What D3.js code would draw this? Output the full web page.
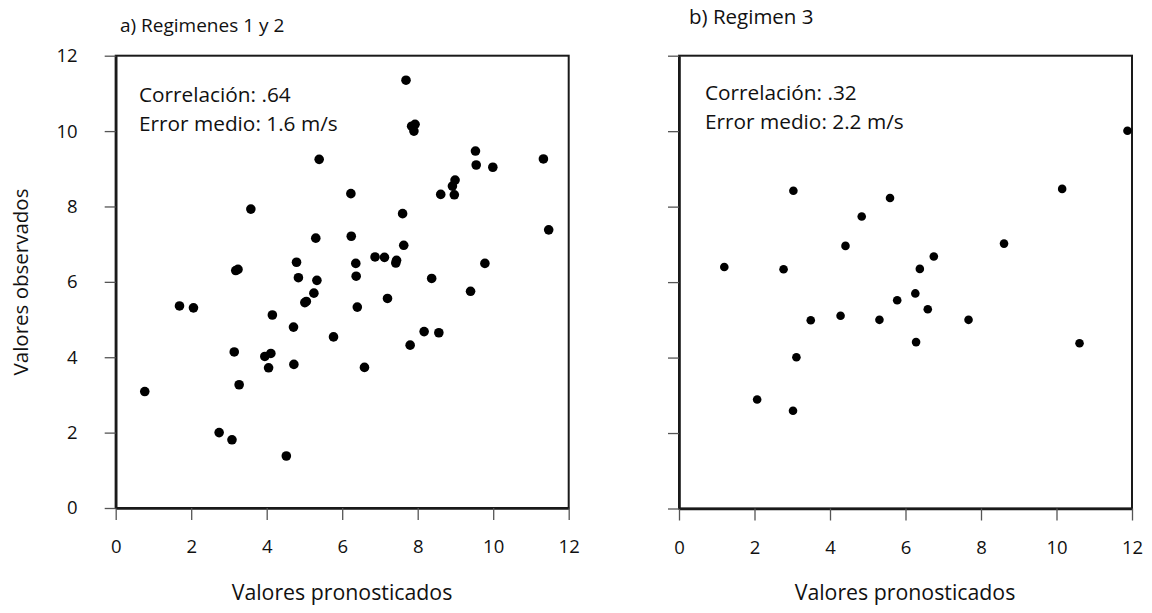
<!DOCTYPE html>
<html><head><meta charset="utf-8">
<script src="https://cdn.jsdelivr.net/npm/d3@7"></script>
<style>
body{margin:0;background:#fff;}
text{font-family:"Open Sans",sans-serif;fill:#111;}
</style></head>
<body><svg id="c" width="1152" height="613"></svg>
<script>
// ---- data ----
const xTicks = [0,2,4,6,8,10,12];
const yTicks = [0,2,4,6,8,10,12];
const panelTitles = ["a) Regimenes 1 y 2", "b) Regimen 3"];
const statsA = ["Correlación: .64", "Error medio: 1.6 m/s"];
const statsB = ["Correlación: .32", "Error medio: 2.2 m/s"];
const xLabel = "Valores pronosticados";
const yLabel = "Valores observados";

// Regimenes 1 y 2: [pronosticado, observado]
const pointsA = [
 [5.39,9.25],[3.58,7.93],[5.30,7.16],[4.79,6.52],[3.18,6.30],[3.24,6.33],[4.84,6.11],[5.33,6.04],
 [7.69,11.35],[7.84,10.13],[7.93,10.18],[7.90,10.00],[9.53,9.47],[9.55,9.10],[9.99,9.04],[11.33,9.26],
 [8.99,8.70],[8.92,8.54],[8.97,8.31],[8.61,8.32],[6.23,8.34],[7.60,7.81],[11.47,7.38],[6.24,7.21],
 [7.63,6.97],[6.87,6.66],[7.12,6.65],[7.42,6.50],[7.44,6.57],[9.78,6.49],[6.36,6.49],[6.37,6.15],
 [8.37,6.09],[7.20,5.56],[9.40,5.75],[6.40,5.33],[5.77,4.54],[8.17,4.68],[8.56,4.65],[7.80,4.32],
 [6.59,3.73],[5.25,5.70],[5.01,5.45],[5.05,5.48],[1.69,5.36],[2.06,5.31],[4.15,5.12],[4.71,4.80],
 [3.14,4.14],[3.95,4.02],[4.11,4.10],[4.05,3.72],[4.72,3.81],[3.27,3.27],[0.77,3.09],[2.74,2.00],
 [3.08,1.81],[4.52,1.38]
];
// Regimen 3
const pointsB = [
 [3.03,8.42],[5.59,8.23],[4.84,7.74],[4.41,6.96],[1.20,6.40],[2.77,6.34],[5.78,5.52],[11.88,10.01],
 [10.15,8.47],[8.61,7.02],[6.75,6.68],[6.38,6.35],[6.26,5.70],[3.49,4.99],[4.28,5.11],[5.31,5.00],
 [3.11,4.01],[2.07,2.89],[3.02,2.59],[6.59,5.28],[7.67,5.00],[6.28,4.41],[10.61,4.38]
];

const svg = d3.select("#c");

function panel(cfg){
  const g = svg.append("g");
  const x = d3.scaleLinear().domain([0,12]).range([cfg.x0, cfg.x1]);
  const y = d3.scaleLinear().domain([0,12]).range([cfg.y0, cfg.y1]);

  g.append("rect").attr("x",cfg.x0).attr("y",cfg.y1)
    .attr("width",cfg.x1-cfg.x0).attr("height",cfg.y0-cfg.y1)
    .attr("fill","none").attr("stroke","#1a1a1a").attr("stroke-width",2);

  const xa = g.append("g").attr("transform",`translate(0,${cfg.y0})`)
    .call(d3.axisBottom(x).tickValues(xTicks).tickSize(12).tickSizeOuter(0).tickPadding(20));
  const ya = g.append("g").attr("transform",`translate(${cfg.x0},0)`)
    .call(d3.axisLeft(y).tickValues(yTicks).tickSize(11).tickSizeOuter(0).tickPadding(27)
      .tickFormat(cfg.yLabels ? d3.format("d") : ""));
  [xa,ya].forEach(a=>{
    a.select(".domain").attr("stroke","#1a1a1a").attr("stroke-width",2.6);
    a.selectAll(".tick line").attr("stroke","#555").attr("stroke-width",1.3);
    a.selectAll(".tick text").attr("font-family","Open Sans").attr("font-size",18.5).attr("fill","#111");
  });

  g.append("g").selectAll("circle").data(cfg.points).join("circle")
    .attr("cx",d=>x(d[0])).attr("cy",d=>y(d[1])).attr("r",cfg.r).attr("fill","#000");

  g.append("text").attr("x",cfg.titleX).attr("y",cfg.titleY).attr("font-size",cfg.titleSize).text(cfg.title);
  g.selectAll("text.st").data(cfg.stats).join("text").attr("class","st")
    .attr("x",cfg.statX).attr("y",(d,i)=>cfg.statY + i*28.5).attr("font-size",20.8).text(d=>d);
  g.append("text").attr("x",cfg.xLabX).attr("y",600).attr("text-anchor","middle")
    .attr("font-size",21.3).text(xLabel);
}

panel({x0:115.7,x1:568.7,y0:508,y1:55.7,points:pointsA,r:4.8,yLabels:true,
  title:panelTitles[0],titleSize:19,titleX:120,titleY:32,stats:statsA,statX:139,statY:102,xLabX:342});
panel({x0:679,x1:1132,y0:508.5,y1:55.7,points:pointsB,r:4.3,yLabels:false,
  title:panelTitles[1],titleSize:20.5,titleX:689,titleY:24,stats:statsB,statX:705,statY:100,xLabX:905});

svg.append("text").attr("transform","translate(28,282) rotate(-90)")
  .attr("text-anchor","middle").attr("font-size",20.5).text(yLabel);
</script></body></html>
